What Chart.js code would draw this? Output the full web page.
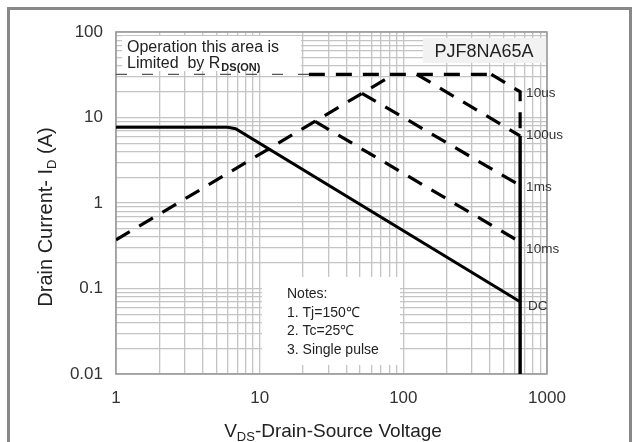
<!DOCTYPE html>
<html>
<head>
<meta charset="utf-8">
<script src="https://cdn.jsdelivr.net/npm/chart.js@4/dist/chart.umd.min.js"></script>
<style>
  html, body { margin: 0; padding: 0; background: #fff; }
  canvas { display: block; }
</style>
</head>
<body>
<canvas id="soa" width="633" height="442"></canvas>
<script>
/* SOA chart - PJF8NA65A
 - dados (escala log-log)
*/

// decades / tick labels
const xDecades = [1, 10, 100, 1000];
const xTickLabels = ["1", "10", "100", "1000"];
const yDecades = [0.01, 0.1, 1, 10, 100];
const yTickLabels = ["0.01", "0.1", "1", "10", "100"];

// curves (V in volts, I in amps)
const rdsV = [1, 86];
const rdsI = [0.37, 32];
const limitThinV = [1, 22];
const limitThinI = [32, 32];
const limitV = [22, 410];
const limitI = [32, 32];
const us10V = [410, 650, 650];
const us10I = [32, 20, 6.1];
const us100V = [124, 650];
const us100I = [32, 6.1];
const ms1V = [51.5, 650];
const ms1I = [19.2, 1.6];
const ms10V = [24.3, 650];
const ms10I = [9.0, 0.35];
const dcV = [1, 6.0, 6.8, 650];
const dcI = [7.7, 7.7, 7.4, 0.07];
const bvV = [650, 650];
const bvI = [6.1, 0.01];

const curveLabels = ["10us", "100us", "1ms", "10ms", "DC"];
const noteLines = ["Notes:", "1. Tj=150\u2103", "2. Tc=25\u2103", "3. Single pulse"];

function pts(xs, ys) {
  return xs.map((x, i) => ({ x, y: ys[i] }));
}

// grid ticks 1..9 per decade
function logTicks(decades) {
  const out = [];
  decades.forEach((d, i) => {
    if (i === decades.length - 1) { out.push(d); return; }
    for (let k = 1; k <= 9; k++) out.push(+(d * k).toPrecision(3));
  });
  return out;
}

const FONT = "'Liberation Sans', Arial, sans-serif";

function dashed(data) {
  return {
    data, showLine: true, pointRadius: 0, borderColor: "#000",
    borderWidth: 3.2, borderDash: [16, 11], borderCapStyle: "butt", tension: 0,
  };
}

const decor = {
  id: "decor",
  beforeDatasetsDraw(chart) {
    const { ctx, chartArea: a } = chart;
    ctx.save();
    // caixas de anotação
    ctx.fillStyle = "#fff";
    ctx.fillRect(122, 36, 179, 35);
    ctx.fillRect(262, 277, 138, 88);
    ctx.fillStyle = "#f2f2f2";
    ctx.fillRect(423, 38, a.right - 423, 25);
    // borda da área
    ctx.strokeStyle = "#9a9a9a";
    ctx.lineWidth = 1.6;
    ctx.strokeRect(a.left, a.top, a.right - a.left, a.bottom - a.top);
    ctx.restore();
  },
  afterDraw(chart) {
    const { ctx } = chart;
    const xs = chart.scales.x, ys = chart.scales.y;
    ctx.save();
    // moldura externa
    ctx.strokeStyle = "#888";
    ctx.lineWidth = 3;
    ctx.strokeRect(8.5, 8.5, 622, 460);

    ctx.fillStyle = "#222";
    ctx.textBaseline = "alphabetic";
    ctx.textAlign = "left";
    ctx.font = "16px " + FONT;
    ctx.fillText("Operation this area is", 127, 51.5);
    ctx.fillText("Limited  by R", 127, 68);
    let w = ctx.measureText("Limited  by R").width;
    ctx.font = "bold 11px " + FONT;
    ctx.fillText("DS(ON)", 127 + w + 1, 71);

    ctx.font = "18px " + FONT;
    ctx.textAlign = "center";
    ctx.fillText("PJF8NA65A", 484, 57);

    // notas
    ctx.textAlign = "left";
    ctx.font = "14px " + FONT;
    noteLines.forEach((t, i) => ctx.fillText(t, 287, 298 + i * 18.7));

    // rótulos das curvas
    ctx.font = "13.5px " + FONT;
    ctx.fillStyle = "#333";
    ctx.textBaseline = "middle";
    const lx = xs.getPixelForValue(650) + 6;
    const ly = [us10I[1], us100I[1], ms1I[1], ms10I[1], dcI[3]];
    const off = [2, -1, 2, 7, 5];
    curveLabels.forEach((t, i) => {
      ctx.fillText(t, lx + (i === 4 ? 2 : 0), ys.getPixelForValue(ly[i]) + off[i]);
    });

    // títulos dos eixos
    ctx.fillStyle = "#222";
    ctx.textBaseline = "alphabetic";
    ctx.font = "19px " + FONT;
    const p1 = "V", p2 = "DS", p3 = "-Drain-Source Voltage";
    ctx.font = "19px " + FONT;
    const w1 = ctx.measureText(p1).width, w3 = ctx.measureText(p3).width;
    ctx.font = "13px " + FONT;
    const w2 = ctx.measureText(p2).width;
    let x0 = 333 - (w1 + w2 + w3) / 2;
    ctx.font = "19px " + FONT;
    ctx.fillText(p1, x0, 437);
    ctx.font = "13px " + FONT;
    ctx.fillText(p2, x0 + w1, 441);
    ctx.font = "19px " + FONT;
    ctx.fillText(p3, x0 + w1 + w2, 437);

    ctx.translate(52, 217);
    ctx.rotate(-Math.PI / 2);
    const q1 = "Drain Current- I", q2 = "D", q3 = " (A)";
    ctx.font = "20px " + FONT;
    const v1 = ctx.measureText(q1).width, v3 = ctx.measureText(q3).width;
    ctx.font = "13px " + FONT;
    const v2 = ctx.measureText(q2).width;
    x0 = -(v1 + v2 + v3) / 2;
    ctx.font = "20px " + FONT;
    ctx.fillText(q1, x0, 0);
    ctx.font = "13px " + FONT;
    ctx.fillText(q2, x0 + v1, 4);
    ctx.font = "20px " + FONT;
    ctx.fillText(q3, x0 + v1 + v2, 0);
    ctx.restore();
  },
};

const whiteBg = {
  id: "whiteBg",
  beforeDraw(chart) {
    const { ctx } = chart;
    ctx.save();
    ctx.fillStyle = "#fff";
    ctx.fillRect(0, 0, chart.width, chart.height);
    ctx.restore();
  },
};

new Chart(document.getElementById("soa"), {
  type: "scatter",
  data: {
    datasets: [
      { ...dashed(pts(limitThinV, limitThinI)), borderColor: "#555", borderWidth: 1.3, borderDash: [11, 15] },
      dashed(pts(rdsV, rdsI)),
      dashed(pts(limitV, limitI)),
      dashed(pts(us10V, us10I)),
      dashed(pts(us100V, us100I)),
      dashed(pts(ms1V, ms1I)),
      dashed(pts(ms10V, ms10I)),
      { data: pts(dcV, dcI), showLine: true, pointRadius: 0, borderColor: "#000", borderWidth: 3, tension: 0 },
      { data: pts(bvV, bvI), showLine: true, pointRadius: 0, borderColor: "#000", borderWidth: 3.4, tension: 0 },
    ],
  },
  options: {
    responsive: false,
    animation: false,
    layout: { padding: { left: 0, top: 32, right: 86, bottom: 0 } },
    plugins: { legend: { display: false }, tooltip: { enabled: false } },
    scales: {
      x: {
        type: "logarithmic",
        min: 1,
        max: 1000,
        afterFit: (s) => { s.height = 68; },
        afterBuildTicks: (s) => { s.ticks = logTicks(xDecades).map((v) => ({ value: v })); },
        grid: { color: "#c4c4c4", lineWidth: 1.3, drawTicks: false },
        border: { display: false },
        ticks: {
          autoSkip: false, maxRotation: 0, padding: 14, color: "#333",
          font: { family: FONT, size: 17 },
          callback: (v) => { const i = xDecades.indexOf(v); return i >= 0 ? xTickLabels[i] : ""; },
        },
      },
      y: {
        type: "logarithmic",
        min: 0.01,
        max: 100,
        afterFit: (s) => { s.width = 116; },
        afterBuildTicks: (s) => { s.ticks = logTicks(yDecades).map((v) => ({ value: v })); },
        grid: { color: "#c4c4c4", lineWidth: 1.3, drawTicks: false },
        border: { display: false },
        ticks: {
          autoSkip: false, padding: 13, color: "#333",
          font: { family: FONT, size: 17 },
          callback: (v) => {
            const i = yDecades.findIndex((d) => Math.abs(d - v) < d * 1e-6);
            return i >= 0 ? yTickLabels[i] : "";
          },
        },
      },
    },
  },
  plugins: [whiteBg, decor],
});
</script>
</body>
</html>
